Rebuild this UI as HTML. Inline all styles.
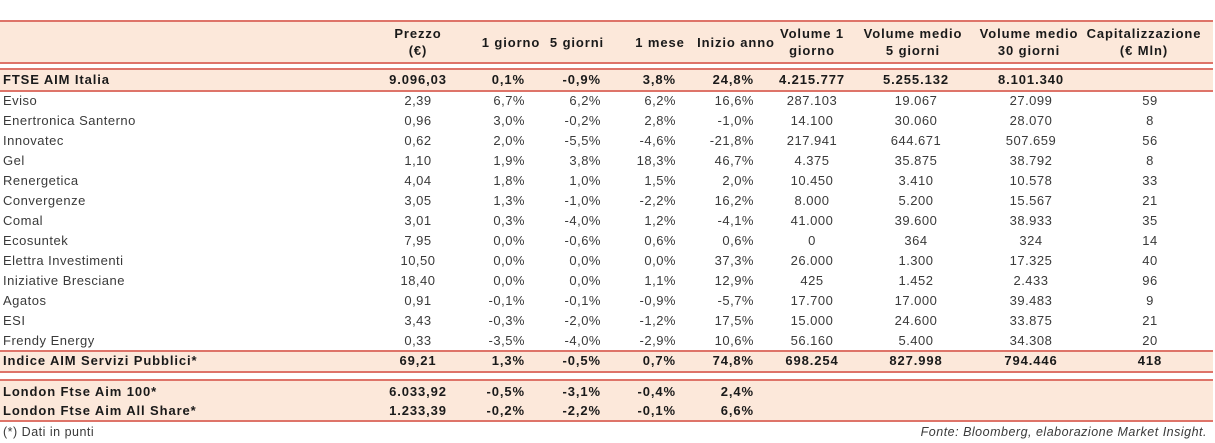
<!DOCTYPE html>
<html><head><meta charset="utf-8">
<style>
body{margin:0;width:1215px;height:443px;background:#fff;position:relative;overflow:hidden;font-family:"Liberation Sans",sans-serif;}
.band{position:absolute;left:0;width:1213px;background:#fce8da;}
.ln{position:absolute;left:0;width:1213px;height:2px;background:#de7469;}
.t{position:absolute;font-size:13px;color:#3a3a3a;white-space:nowrap;line-height:16px;letter-spacing:0.5px;}
.b{font-weight:bold;color:#1a1a1a;font-size:13px;letter-spacing:0.9px;}
.h{position:absolute;font-size:13px;font-weight:bold;color:#1a1a1a;text-align:center;line-height:17px;white-space:nowrap;letter-spacing:0.9px;}
</style></head><body>
<div class="band" style="top:21px;height:41px"></div>
<div class="ln" style="top:20px"></div>
<div class="ln" style="top:62px"></div>
<div class="band" style="top:69px;height:21px"></div>
<div class="ln" style="top:68px"></div>
<div class="ln" style="top:90px"></div>
<div class="band" style="top:351px;height:20px"></div>
<div class="ln" style="top:350px"></div>
<div class="ln" style="top:371px"></div>
<div class="band" style="top:380px;height:40px"></div>
<div class="ln" style="top:379px"></div>
<div class="ln" style="top:420px"></div>

<div class="h" style="left:378px;width:80px;top:25px">Prezzo<br>(€)</div>
<div class="h" style="left:471px;width:80px;top:34px">1 giorno</div>
<div class="h" style="left:537px;width:80px;top:34px">5 giorni</div>
<div class="h" style="left:620px;width:80px;top:34px">1 mese</div>
<div class="h" style="left:691px;width:90px;top:34px">Inizio anno</div>
<div class="h" style="left:762px;width:100px;top:25px">Volume 1<br>giorno</div>
<div class="h" style="left:858px;width:110px;top:25px">Volume medio<br>5 giorni</div>
<div class="h" style="left:974px;width:110px;top:25px">Volume medio<br>30 giorni</div>
<div class="h" style="left:1084px;width:120px;top:25px">Capitalizzazione<br>(€ Mln)</div>

<div class="t" style="left:3px;top:424px;font-size:12.5px">(*) Dati in punti</div>
<div class="t" style="right:8px;top:424px;font-style:italic;font-size:12.5px">Fonte: Bloomberg, elaborazione Market Insight.</div>

<script>
const names=["FTSE AIM Italia","Eviso","Enertronica Santerno","Innovatec","Gel","Renergetica","Convergenze","Comal","Ecosuntek","Elettra Investimenti","Iniziative Bresciane","Agatos","ESI","Frendy Energy","Indice AIM Servizi Pubblici*","London Ftse Aim 100*","London Ftse Aim All Share*"];
const prezzo=["9.096,03","2,39","0,96","0,62","1,10","4,04","3,05","3,01","7,95","10,50","18,40","0,91","3,43","0,33","69,21","6.033,92","1.233,39"];
const g1=["0,1%","6,7%","3,0%","2,0%","1,9%","1,8%","1,3%","0,3%","0,0%","0,0%","0,0%","-0,1%","-0,3%","-3,5%","1,3%","-0,5%","-0,2%"];
const g5=["-0,9%","6,2%","-0,2%","-5,5%","3,8%","1,0%","-1,0%","-4,0%","-0,6%","0,0%","0,0%","-0,1%","-2,0%","-4,0%","-0,5%","-3,1%","-2,2%"];
const m1=["3,8%","6,2%","2,8%","-4,6%","18,3%","1,5%","-2,2%","1,2%","0,6%","0,0%","1,1%","-0,9%","-1,2%","-2,9%","0,7%","-0,4%","-0,1%"];
const ytd=["24,8%","16,6%","-1,0%","-21,8%","46,7%","2,0%","16,2%","-4,1%","0,6%","37,3%","12,9%","-5,7%","17,5%","10,6%","74,8%","2,4%","6,6%"];
const v1=["4.215.777","287.103","14.100","217.941","4.375","10.450","8.000","41.000","0","26.000","425","17.700","15.000","56.160","698.254","",""];
const v5=["5.255.132","19.067","30.060","644.671","35.875","3.410","5.200","39.600","364","1.300","1.452","17.000","24.600","5.400","827.998","",""];
const v30=["8.101.340","27.099","28.070","507.659","38.792","10.578","15.567","38.933","324","17.325","2.433","39.483","33.875","34.308","794.446","",""];
const cap=["","59","8","56","8","33","21","35","14","40","96","9","21","20","418","",""];
const bold=[1,0,0,0,0,0,0,0,0,0,0,0,0,0,1,1,1];
const rowTop=[72,93,113,133,153,173,193,213,233,253,273,293,313,333,353,384,403];
function cell(txt,top,x,align,b,name){
  const d=document.createElement('div');
  d.className='t'+(b?' b':'');
  
  
  d.textContent=txt;d.style.top=top+'px';
  if(align==='l'){d.style.left=x+'px';}
  else if(align==='r'){d.style.right=(1215-x)+'px';}
  else{d.style.left=(x-60)+'px';d.style.width='120px';d.style.textAlign='center';}
  document.body.appendChild(d);
}
for(let i=0;i<names.length;i++){
  const t=rowTop[i],b=bold[i];
  cell(names[i],t,3,'l',b,'row-label');
  cell(prezzo[i],t,418,'c',b,'price-cell');
  cell(g1[i],t,525,'r',b,'change-1d-cell');
  cell(g5[i],t,601,'r',b,'change-5d-cell');
  cell(m1[i],t,676,'r',b,'change-1m-cell');
  cell(ytd[i],t,754,'r',b,'change-ytd-cell');
  if(v1[i])cell(v1[i],t,812,'c',b,'volume-1d-cell');
  if(v5[i])cell(v5[i],t,916,'c',b,'volume-5d-cell');
  if(v30[i])cell(v30[i],t,1031,'c',b,'volume-30d-cell');
  if(cap[i])cell(cap[i],t,1150,'c',b,'market-cap-cell');
}
</script>
</body></html>
